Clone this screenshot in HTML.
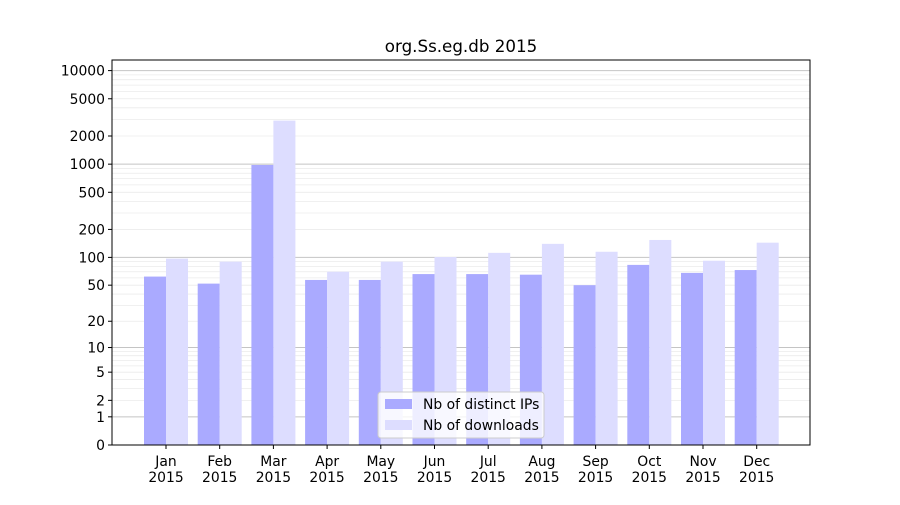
<!DOCTYPE html>
<html><head><meta charset="utf-8"><style>
body{margin:0;background:#fff;}
svg text{font-family:"DejaVu Sans","Liberation Sans",sans-serif;fill:#000;}
</style></head><body>
<svg id="chart" width="900" height="500" xmlns="http://www.w3.org/2000/svg">
<rect width="900" height="500" fill="#fff"/>
<text x="461" y="52" font-size="16.7" text-anchor="middle">org.Ss.eg.db 2015</text>
<g id="grid"></g>
<g id="bars"></g>
<g id="axes"></g>
</svg>
<script>
const months = ["Jan","Feb","Mar","Apr","May","Jun","Jul","Aug","Sep","Oct","Nov","Dec"];
const ipValues = [62,52,980,57,57,66,66,65,50,83,68,73];
const dlValues = [97,90,2920,70,90,101,112,140,115,154,92,144];
const yTicks = [0,1,2,5,10,20,50,100,200,500,1000,2000,5000,10000];
const majorGrid = [1,10,100,1000,10000];

const NS="http://www.w3.org/2000/svg";
const L=112,R=810,T=60,B=445,PX=93.6;
function y(v){return B-Math.log10(v+1)*PX;}
function xc(i){return 166+i*53.7;}
function mk(tag,attrs,parent){const e=document.createElementNS(NS,tag);for(const k in attrs)e.setAttribute(k,attrs[k]);parent.appendChild(e);return e;}
const grid=document.getElementById('grid'),bars=document.getElementById('bars'),axes=document.getElementById('axes');
for(let p=0;p<=4;p++){for(let m=2;m<=9;m++){const v=m*Math.pow(10,p);const yy=y(v);if(yy<T)continue;
 const g=mk('line',{x1:L,x2:R,y1:yy,y2:yy,stroke:'#ebebeb','stroke-width':0.8},grid);
 
 }}
majorGrid.forEach(v=>{const g=mk('line',{x1:L,x2:R,y1:y(v),y2:y(v),stroke:'#c4c4c4','stroke-width':1},grid);
 
 });
months.forEach((m,i)=>{
 const a=mk('rect',{x:xc(i)-22,y:y(ipValues[i]),width:22,height:B-y(ipValues[i]),fill:'#aaaaff'},bars);
 
 
 const b=mk('rect',{x:xc(i),y:y(dlValues[i]),width:22,height:B-y(dlValues[i]),fill:'#ddddff'},bars);
 
 
 mk('line',{x1:xc(i),x2:xc(i),y1:B,y2:B+4,stroke:'#000'},axes);
 const t=mk('text',{x:xc(i),y:B+21,'font-size':13.9,'text-anchor':'middle'},axes);
 
 
 const s1=mk('tspan',{x:xc(i)},t);s1.textContent=m;
 const s2=mk('tspan',{x:xc(i),dy:16},t);s2.textContent='2015';
});
yTicks.forEach(v=>{
 mk('line',{x1:L-4,x2:L,y1:y(v),y2:y(v),stroke:'#000'},axes);
 const t=mk('text',{x:L-7,y:y(v)+5,'font-size':13.9,'text-anchor':'end'},axes);
 t.textContent=v;
 
 
});
const fr=mk('rect',{x:L,y:T,width:R-L,height:B-T,fill:'none',stroke:'#000','stroke-width':1},axes);


const lg=mk('g',{},axes);


mk('rect',{x:378,y:392,width:166,height:46,rx:3,fill:'#fff','fill-opacity':0.8,stroke:'#ccc'},lg);
const e1=mk('rect',{x:385,y:399,width:27,height:10,fill:'#aaaaff'},lg);


const t1=mk('text',{x:423,y:409,'font-size':13.9},lg);t1.textContent='Nb of distinct IPs';


const e2=mk('rect',{x:385,y:420,width:27,height:10,fill:'#ddddff'},lg);


const t2=mk('text',{x:423,y:430,'font-size':13.9},lg);t2.textContent='Nb of downloads';


</script>
</body></html>
